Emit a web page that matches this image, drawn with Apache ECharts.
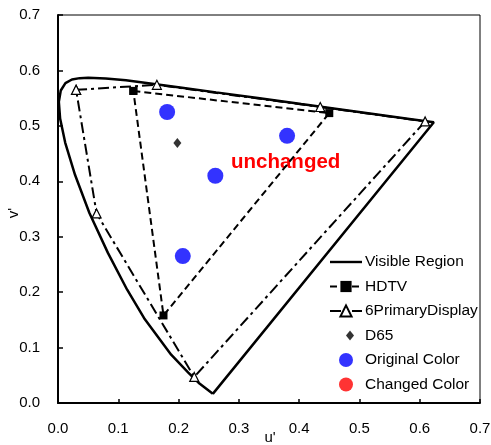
<!DOCTYPE html>
<html><head><meta charset="utf-8">
<script src="https://cdn.jsdelivr.net/npm/echarts@6/dist/echarts.min.js"></script>
<style>html,body{margin:0;padding:0;background:#fff}#c{width:491px;height:445px}</style>
</head><body><div id="c"></div>
<script>
// Spectral locus (visible region), closed back to start
const locusU = [0.2568,0.2563,0.2347,0.2161,0.1877,0.1441,0.1147,0.0828,0.0521,0.0282,0.0119,0.0035,0.0014,0.0046,0.0123,0.0231,0.0360,0.0501,0.0792,0.1127,0.1531,0.2026,0.2623,0.3315,0.4035,0.4692,0.5203,0.5830,0.6109,0.6234,0.2568];
const locusV = [0.0165,0.0171,0.0350,0.0549,0.0871,0.1510,0.2044,0.2708,0.3427,0.4117,0.4698,0.5131,0.5432,0.5638,0.5770,0.5837,0.5861,0.5868,0.5856,0.5821,0.5766,0.5694,0.5604,0.5501,0.5393,0.5296,0.5219,0.5125,0.5084,0.5065,0.0165];
const hdtvU = [0.125,0.450,0.175,0.125];
const hdtvV = [0.563,0.523,0.158,0.563];
const sixU = [0.030,0.164,0.435,0.609,0.226,0.064,0.030];
const sixV = [0.565,0.574,0.534,0.508,0.047,0.342,0.565];
const d65U = [0.198];
const d65V = [0.469];
const origU = [0.181,0.261,0.380,0.207];
const origV = [0.525,0.410,0.482,0.265];
const changedU = [];
const changedV = [];
const xTicks = [0,0.1,0.2,0.3,0.4,0.5,0.6,0.7];
const yTicks = [0,0.1,0.2,0.3,0.4,0.5,0.6,0.7];
const seriesNames = ['Visible Region','HDTV','6PrimaryDisplay','D65','Original Color','Changed Color'];
const xName = "u'";
const yName = "v'";
const annotation = 'unchanged';

const pairs = (u, v) => u.map((x, i) => [x, v[i]]);
const font = '"Liberation Sans", Arial, sans-serif';
const diamondIcon = 'path://M0,0 M24,14 M16,2 L20,7 L16,12 L12,7 Z';
const solidLineIcon = 'path://M0,0 M32,14 M0,5.8 L32,5.8 L32,8.2 L0,8.2 Z';

const chart = echarts.init(document.getElementById('c'), null, {renderer: 'canvas'});
chart.setOption({
  animation: false,
  backgroundColor: '#fff',
  grid: {left: 58, right: 11, top: 15, bottom: 42, show: true, borderColor: '#000', borderWidth: 1,
         containLabel: false, outerBoundsMode: 'none'},
  xAxis: {
    type: 'value', min: 0, max: 0.7, interval: 0.1,
    axisLine: {show: true, onZero: false, lineStyle: {color: '#000', width: 2}},
    axisTick: {show: true, inside: true, length: 4, lineStyle: {color: '#000', width: 1.5}},
    axisLabel: {fontFamily: font, fontSize: 15, color: '#000', margin: 18, formatter: v => v.toFixed(1)},
    splitLine: {show: false}
  },
  yAxis: {
    type: 'value', min: 0, max: 0.7, interval: 0.1,
    axisLine: {show: true, onZero: false, lineStyle: {color: '#000', width: 2}},
    axisTick: {show: true, inside: true, length: 5, lineStyle: {color: '#000', width: 1.5}},
    axisLabel: {fontFamily: font, fontSize: 15, color: '#000', margin: 18, formatter: v => v.toFixed(1)},
    splitLine: {show: false}
  },
  legend: {
    orient: 'vertical', left: 324, top: 249,
    itemWidth: 32, itemHeight: 14, itemGap: 8.5,
    textStyle: {fontFamily: font, fontSize: 15.5, color: '#000', padding: [0,0,0,-2]},
    data: [
      {name: seriesNames[0], icon: solidLineIcon}, {name: seriesNames[1]}, {name: seriesNames[2]},
      {name: seriesNames[3], icon: diamondIcon},
      {name: seriesNames[4], icon: 'circle'}, {name: seriesNames[5], icon: 'circle'}
    ]
  },
  graphic: [
    {type: 'text', left: 231, top: 152,
     style: {text: annotation, fill: '#ff0000', font: 'bold 20.5px "Liberation Sans", Arial, sans-serif'}},
    {type: 'text', x: 270, y: 438,
     style: {text: xName, fill: '#000', font: '15px "Liberation Sans", Arial, sans-serif', align: 'center', verticalAlign: 'middle'}},
    {type: 'text', x: 14, y: 213, rotation: Math.PI / 2,
     style: {text: yName, fill: '#000', font: '15px "Liberation Sans", Arial, sans-serif', align: 'center', verticalAlign: 'middle'}}
  ],
  series: [
    {name: seriesNames[0], type: 'line', data: pairs(locusU, locusV), symbol: 'none',
     lineStyle: {color: '#000', width: 2.5}, itemStyle: {color: '#000'}, z: 2},
    {name: seriesNames[1], type: 'line', data: pairs(hdtvU, hdtvV), symbol: 'rect', symbolSize: 8,
     lineStyle: {color: '#000', width: 2, type: [7, 4]}, itemStyle: {color: '#000'}, z: 3},
    {name: seriesNames[2], type: 'line', data: pairs(sixU, sixV), symbol: 'triangle', symbolSize: 9,
     lineStyle: {color: '#000', width: 2, type: [11, 4, 3, 4]}, itemStyle: {color: '#fff', borderColor: '#000', borderWidth: 1.2}, z: 4},
    {name: seriesNames[3], type: 'scatter', data: pairs(d65U, d65V), symbol: 'diamond', symbolSize: [8, 10],
     itemStyle: {color: '#000'}, z: 5},
    {name: seriesNames[4], type: 'scatter', data: pairs(origU, origV), symbol: 'circle', symbolSize: 16,
     itemStyle: {color: '#0000ff'}, z: 6},
    {name: seriesNames[5], type: 'scatter', data: pairs(changedU, changedV), symbol: 'circle', symbolSize: 16,
     itemStyle: {color: '#ff0000'}, z: 6}
  ]
});
</script></body></html>
